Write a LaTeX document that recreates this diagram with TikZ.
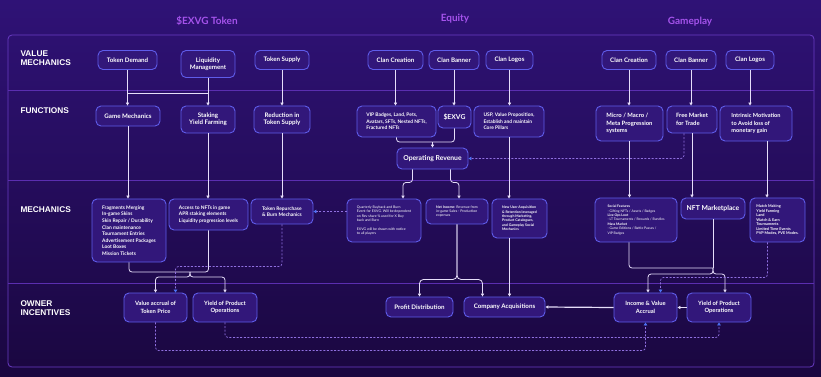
\documentclass[tikz,border=0pt]{standalone}
\usepackage{fontspec}
\setmainfont{Lato}
\newfontfamily\headfont{Liberation Sans}
\usetikzlibrary{arrows.meta, calc}
\definecolor{bgtop}{HTML}{2F1276}
\definecolor{bgbot}{HTML}{1A0740}
\definecolor{framecol}{HTML}{6A3CC4}
\definecolor{sepcol}{HTML}{5B2EB0}
\definecolor{boxfill}{HTML}{32177A}
\definecolor{boxedge}{HTML}{5F5CEA}
\definecolor{wire}{HTML}{E6DEFA}
\definecolor{dashcol}{HTML}{9070E0}
\definecolor{tipblue}{HTML}{4D72F4}
\definecolor{titlecol}{HTML}{A553EC}
\tikzset{
  box/.style={draw=boxedge, line width=0.9pt, rounded corners=5pt, fill=boxfill, text=white,
    align=center, inner sep=1.5pt, font=\fontsize{6.2}{7.4}\selectfont\bfseries},
  sz/.style 2 args={minimum width=#1pt, minimum height=#2pt},
  note/.style={box, align=left, font=\fontsize{4.9}{6.6}\selectfont\bfseries},
  fine/.style={box, align=left, font=\fontsize{3.5}{4.4}\selectfont},
  big/.style={box, font=\fontsize{6.8}{8}\selectfont\bfseries},
  rowlab/.style={anchor=west, align=left, text=white, font=\headfont\fontsize{8.3}{8.6}\selectfont\bfseries},
  coltitle/.style={text=titlecol, font=\fontsize{10}{11}\selectfont\bfseries},
  wireline/.style={draw=wire, line width=0.8pt},
  arr/.style={wireline, -{Triangle[length=3pt, width=3.2pt]}},
  dasharr/.style={draw=dashcol, line width=0.7pt, dash pattern=on 2pt off 1.6pt,
    -{Triangle[length=3pt, width=3.6pt, color=tipblue]}},
}
\begin{document}
\begin{tikzpicture}[x=1pt, y=-1pt]
    \shade[top color=bgtop, bottom color=bgbot] (0,0) rectangle (821,376);
    \draw[framecol, line width=0.8pt, rounded corners=4pt] (8,35) rectangle (814,367);
    \foreach \yy in {90,180,283}
      \draw[sepcol, line width=0.6pt] (8,\yy) -- (814,\yy);

    \node[coltitle] (ttoken) at (207,21) {\$EXVG Token};
    \node[coltitle] (tequity) at (455,19) {Equity};
    \node[coltitle] (tgame) at (690,22) {Gameplay};

    \node[rowlab] (lvalue) at (17,58) {VALUE\\MECHANICS};
    \node[rowlab] (lfunc) at (17,111) {FUNCTIONS};
    \node[rowlab] (lmech) at (17,210) {MECHANICS};
    \node[rowlab] (lowner) at (17,308) {OWNER\\INCENTIVES};

    % value mechanics
    \node[box, sz={59}{19}] (tokdem) at (127.5,60) {Token Demand};
    \node[box, sz={54}{27}] (liq) at (208,64) {Liquidity\\Management};
    \node[box, sz={54}{19}] (toksup) at (282,60) {Token Supply};
    \node[box, sz={55}{19}] (clancre) at (395.5,60) {Clan Creation};
    \node[box, sz={50}{19}] (clanban) at (454,60) {Clan Banner};
    \node[box, sz={47}{19}] (clanlog) at (509.5,60) {Clan Logos};
    \node[box, sz={54}{19}] (gclancre) at (629,60) {Clan Creation};
    \node[box, sz={50}{19}] (gclanban) at (691,60) {Clan Banner};
    \node[box, sz={48}{19}] (gclanlog) at (750,60) {Clan Logos};

    % functions
    \node[box, sz={64}{20}] (gamemech) at (128,116) {Game Mechanics};
    \node[box, sz={54}{27}] (staking) at (208,119.5) {Staking\\Yield Farming};
    \node[box, sz={56}{27}] (reduct) at (282,119.5) {Reduction in\\Token Supply};
    \node[note, sz={79}{31}] (vip) at (396.5,121.5) {VIP Badges, Land, Pets,\\Avatars, SFTs, Nested NFTs,\\Fractured NFTs};
    \node[big, sz={33}{22}] (exvg) at (454.5,117) {\$EXVG};
    \node[note, sz={70}{31}] (usp) at (509,121.5) {USP, Value Proposition,\\Establish and maintain\\Core Pillars};
    \node[big, sz={71}{21}] (oprev) at (432.5,158.5) {Operating Revenue};
    \node[box, align=left, font=\fontsize{5.9}{7.7}\selectfont\bfseries, sz={67}{35}] (micro) at (629.5,123.5) {Micro / Macro /\\Meta Progression\\systems};
    \node[box, align=left, font=\fontsize{5.9}{7.7}\selectfont\bfseries, sz={50}{27}] (freemkt) at (692,119.5) {Free Market\\for Trade};
    \node[box, align=left, font=\fontsize{5.6}{7.7}\selectfont\bfseries, sz={72}{35}] (intr) at (756,123.5) {Intrinsic Motivation\\to Avoid loss of\\monetary gain};

    % mechanics
    \node[note, sz={74}{63}] (frag) at (129,230.5) {Fragments Merging\\In-game Skins\\Skin Repair / Durability\\Clan maintenance\\Tournament Entries\\Advertisement Packages\\Loot Boxes\\Mission Tickets};
    \node[note, sz={79}{31}] (access) at (208.5,214.5) {Access to NFTs in game\\APR staking elements\\Liquidity progression levels};
    \node[note, sz={62}{25}] (repur) at (282,211.5) {Token Repurchase\\\& Burn Mechanics};
    \node[fine, sz={74}{43}] (quart) at (384,220.5) {Quarterly Buyback and Burn\\Event for EXVG. Will be dependent\\on Rev share \% used for X Buy\\back and Burn\\[4.4pt]EXVG will be drawn with notice\\to all players};
    \node[fine, sz={62}{25}] (netinc) at (457,211.5) {\textbf{Net Income:} Revenue from\\in-game Sales - Production\\expenses};
    \node[fine, font=\fontsize{3.5}{4.4}\selectfont\bfseries, sz={55}{39}] (newuser) at (519.5,218.5) {New User Acquisition\\\& Retention leveraged\\through Marketing,\\Product Catalogues,\\and Gameplay Social\\Mechanics};
    \node[fine, font=\fontsize{3.4}{4.4}\selectfont, sz={82}{44}] (social) at (636,220) {\textbf{Social Features}\\- Gifting NFTs / Assets / Badges\\\textbf{Live Ops Loot}\\- LT Tournaments / Rewards / Bundles\\\textbf{Mass Market}\\- Game Editions / Battle Passes /\\VIP Badges};
    \node[big, sz={64}{21}] (nft) at (713,208.5) {NFT Marketplace};
    \node[fine, font=\fontsize{3.8}{4.5}\selectfont\bfseries, sz={55}{44}] (match) at (777.5,220) {Match Making\\Yield Farming\\Land\\Watch \& Earn\\Tournaments\\Limited Time Events\\PVP Modes, PVE Modes.};

    % owner incentives
    \node[box, font=\fontsize{5.8}{7.4}\selectfont\bfseries, sz={63}{29}] (valacc) at (155.5,307.5) {Value accrual of\\Token Price};
    \node[box, font=\fontsize{5.8}{7.4}\selectfont\bfseries, sz={64}{29}] (yieldl) at (225,307.5) {Yield of Product\\Operations};
    \node[box, sz={67}{20}] (profit) at (419.5,307) {Profit Distribution};
    \node[box, sz={81}{20}] (compacq) at (504.5,307) {Company Acquisitions};
    \node[box, font=\fontsize{5.8}{7.4}\selectfont\bfseries, sz={63}{29}] (income) at (645.5,307.5) {Income \& Value\\Accrual};
    \node[box, font=\fontsize{5.8}{7.4}\selectfont\bfseries, sz={64}{29}] (yieldr) at (719,307.5) {Yield of Product\\Operations};

    % value mechanics -> functions
    \coordinate (bridge) at (0,93);
    \draw[arr] (tokdem.south) -- (tokdem.south |- gamemech.north);
    \draw[arr] (liq.south) -- (liq.south |- staking.north);
    \draw[wireline] (tokdem.south |- bridge) -- (liq.south |- bridge);
    \draw[arr] (toksup.south) -- (toksup.south |- reduct.north);
    \draw[arr] (clancre.south) -- (clancre.south |- vip.north);
    \draw[arr] (clanban.south) -- (clanban.south |- exvg.north);
    \draw[arr] (clanlog.south) -- (clanlog.south |- usp.north);
    \draw[arr] (gclancre.south) -- (gclancre.south |- micro.north);
    \draw[arr] (gclanban.south) -- (gclanban.south |- freemkt.north);
    \draw[arr] (gclanlog.south) -- (gclanlog.south |- intr.north);

    % functions -> operating revenue
    \coordinate (opin) at (432.5,142);
    \draw[wireline, rounded corners=3pt] (vip.south) |- (opin);
    \draw[wireline, rounded corners=3pt] (exvg.south) |- (opin);
    \draw[arr] (opin) -- (oprev.north);
    \draw[dasharr, rounded corners=3pt] ([xshift=-8pt]freemkt.south) |- (oprev.east);

    % functions -> mechanics
    \draw[arr] (gamemech.south) -- (gamemech.south |- frag.north);
    \draw[arr] (staking.south) -- (staking.south |- access.north);
    \draw[arr] (reduct.south) -- (reduct.south |- repur.north);
    \draw[arr, rounded corners=3pt] ([xshift=-20pt]oprev.south) -- ++(0,13) -| ([xshift=19pt]quart.north);
    \draw[arr, rounded corners=3pt] ([xshift=18pt]oprev.south) -- ++(0,13) -| ([xshift=2pt]netinc.north);
    \draw[arr] (usp.south) -- (usp.south |- newuser.north);
    \draw[arr] (micro.south) -- (micro.south |- social.north);
    \draw[arr] (freemkt.south) -- (freemkt.south |- nft.north);
    \draw[arr] ([xshift=11pt]intr.south) -- ([xshift=11pt]intr.south |- match.north);
    \draw[dasharr] (quart.west |- repur.east) -- (repur.east);

    % mechanics -> owner incentives
    \coordinate (mleft) at (190,272);
    \draw[wireline, rounded corners=3pt] (frag.south) |- (mleft);
    \draw[wireline, rounded corners=3pt] (access.south) |- (mleft);
    \draw[arr, rounded corners=3pt] (mleft) -- ++(0,5) -| (valacc.north);
    \draw[arr, rounded corners=3pt] (mleft) -- ++(0,5) -| (yieldl.north);
    \draw[dasharr, rounded corners=3pt] (repur.south) -- ++(0,42) -| ([xshift=20pt]valacc.north);
    \draw[arr, rounded corners=4pt] (netinc.south) -- ++(0,55) -| (profit.north);
    \draw[arr, rounded corners=4pt] (netinc.south) -- ++(0,55) -| ([xshift=-22pt]compacq.north);
    \draw[arr] ([xshift=-10pt]newuser.south) -- ([xshift=-10pt]newuser.south |- compacq.north);
    \coordinate (mright) at (713,268);
    \draw[wireline, rounded corners=3pt] ([xshift=-7pt]social.south) |- (mright);
    \draw[wireline] (nft.south) -- (nft.south |- mright);
    \draw[arr, rounded corners=3pt] (mright) -- ++(0,6) -| ([xshift=2.5pt]income.north);
    \draw[arr, rounded corners=3pt] (mright) -- ++(0,6) -| ([xshift=6pt]yieldr.north);
    \draw[dasharr, rounded corners=3pt] ([xshift=-10pt]match.south) -- ++(0,35) -| ([xshift=15pt]income.north);

    % owner incentives
    \draw[arr, line width=1.2pt] (income.west) -- (compacq.east);
    \draw[arr] (yieldr.west) -- (income.east);
    \draw[dasharr, rounded corners=3pt] (valacc.south) -- ++(0,28) -| (income.south);
    \draw[dasharr, rounded corners=3pt] (yieldl.south) -- ++(0,15) -| (yieldr.south);
\end{tikzpicture}
\end{document}
